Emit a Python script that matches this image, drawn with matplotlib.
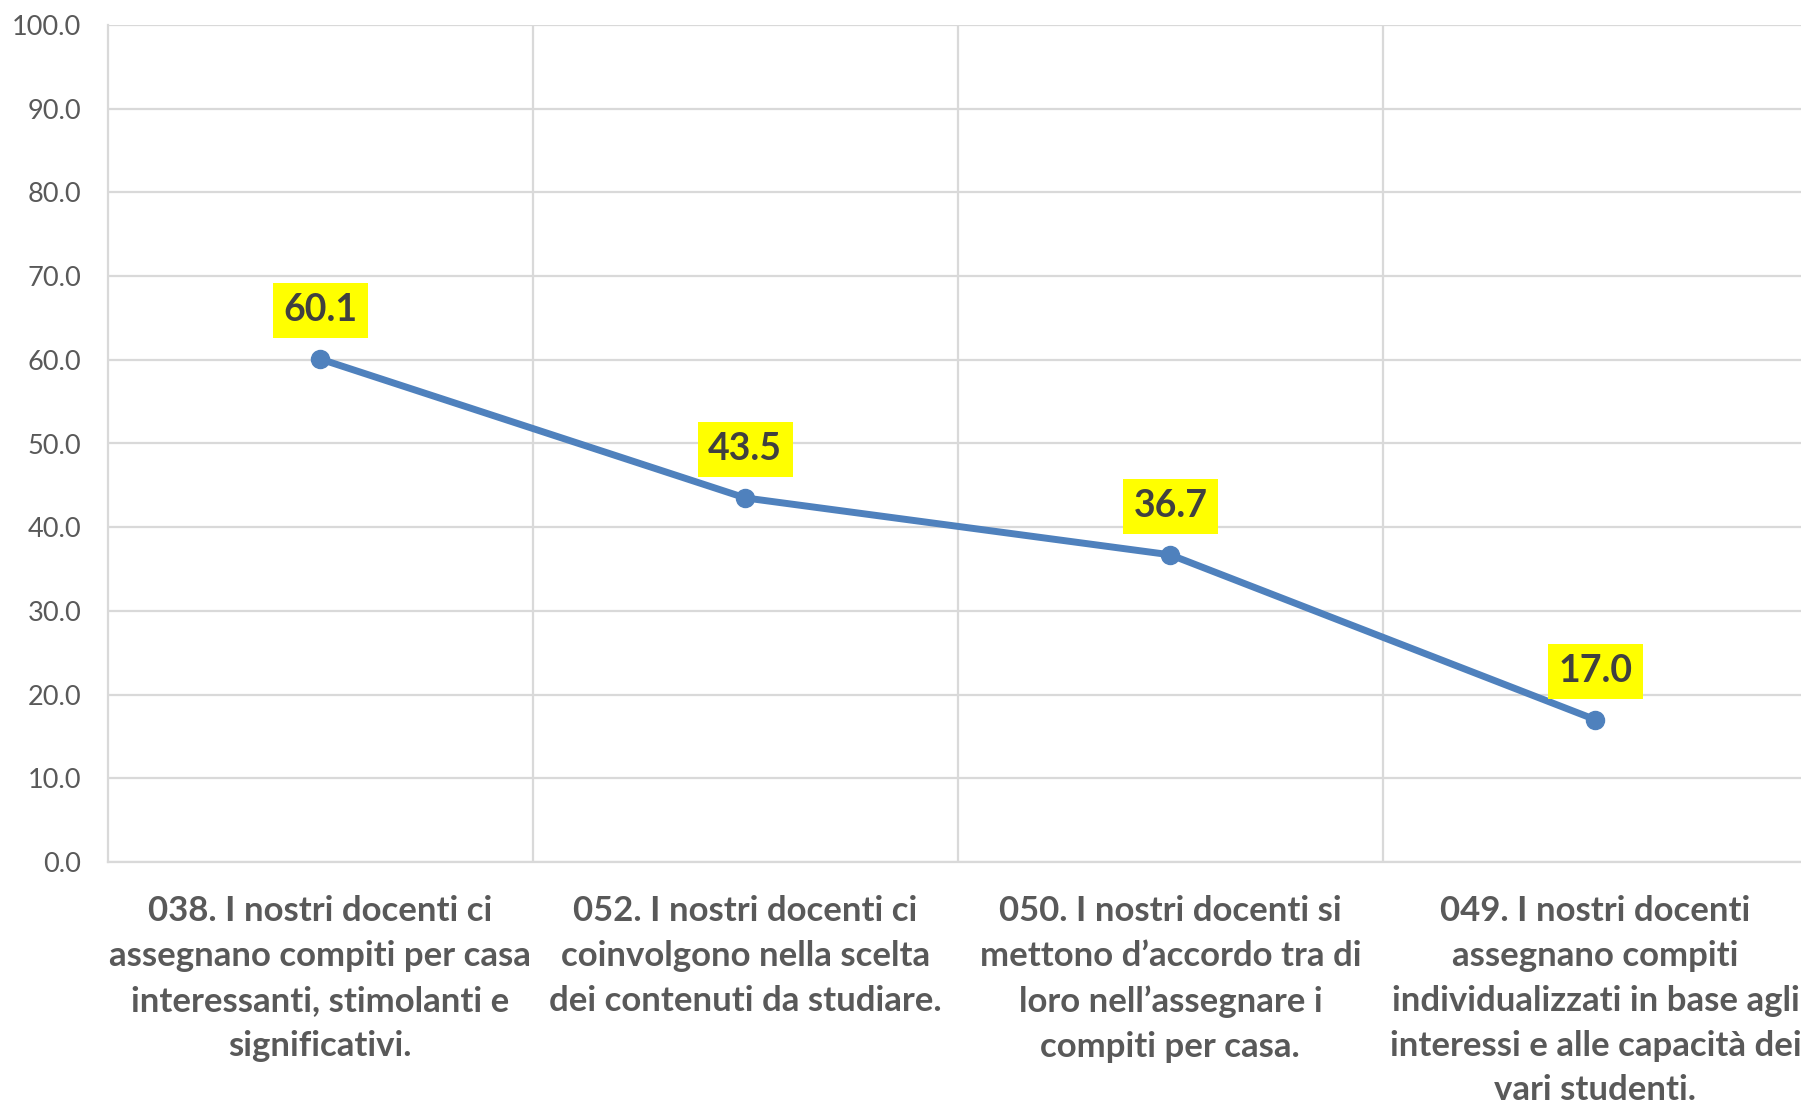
import matplotlib.pyplot as plt
from matplotlib.ticker import FixedLocator

# Chart data
categories = [
    "038. I nostri docenti ci\nassegnano compiti per casa\ninteressanti, stimolanti e\nsignificativi.",
    "052. I nostri docenti ci\ncoinvolgono nella scelta\ndei contenuti da studiare.",
    "050. I nostri docenti si\nmettono d\u2019accordo tra di\nloro nell\u2019assegnare i\ncompiti per casa.",
    "049. I nostri docenti\nassegnano compiti\nindividualizzati in base agli\ninteressi e alle capacit\u00e0 dei\nvari studenti.",
]
values = [60.1, 43.5, 36.7, 17.0]
y_ticks = [0, 10, 20, 30, 40, 50, 60, 70, 80, 90, 100]

plt.rcParams['font.family'] = ['Lato', 'DejaVu Sans']

fig = plt.figure(figsize=(18.01, 11.06), dpi=100)
ax = fig.add_axes([107.5 / 1801, 244 / 1106, 1700.5 / 1801, 837 / 1106])

x = list(range(len(values)))
ax.plot(x, values, color='#4F81BD', linewidth=5, marker='o', markersize=13,
        solid_capstyle='round', zorder=3)

# Data labels on yellow boxes
for xi, v in zip(x, values):
    ax.annotate(f"{v:.1f}", (xi, v), xytext=(0, 35), textcoords='offset points',
                ha='center', va='center', fontsize=27, fontweight='bold', color='#404040',
                bbox=dict(boxstyle='square,pad=0.28', facecolor='#FFFF00', edgecolor='none'),
                zorder=4)

ax.set_xlim(-0.5, len(values) - 0.5)
ax.set_ylim(0, 100)
ax.set_yticks(y_ticks)
ax.set_yticklabels([f"{t:.1f}" for t in y_ticks])
ax.set_xticks(x)
ax.set_xticklabels(categories, fontsize=25, fontweight='bold', color='#595959',
                   linespacing=1.49)
ax.xaxis.set_minor_locator(FixedLocator([0.5, 1.5, 2.5]))

ax.tick_params(axis='y', length=0, pad=19, labelsize=19.5, labelcolor='#595959')
ax.tick_params(axis='x', which='both', length=0, pad=24)

ax.grid(axis='y', color='#D9D9D9', linewidth=1.6)
ax.grid(axis='x', which='minor', color='#D9D9D9', linewidth=1.6)
ax.set_axisbelow(True)

for side in ['top', 'right']:
    ax.spines[side].set_visible(False)
for side in ['left', 'bottom']:
    ax.spines[side].set_color('#D9D9D9')
    ax.spines[side].set_linewidth(1.6)

fig.savefig('out.png', dpi=100)
